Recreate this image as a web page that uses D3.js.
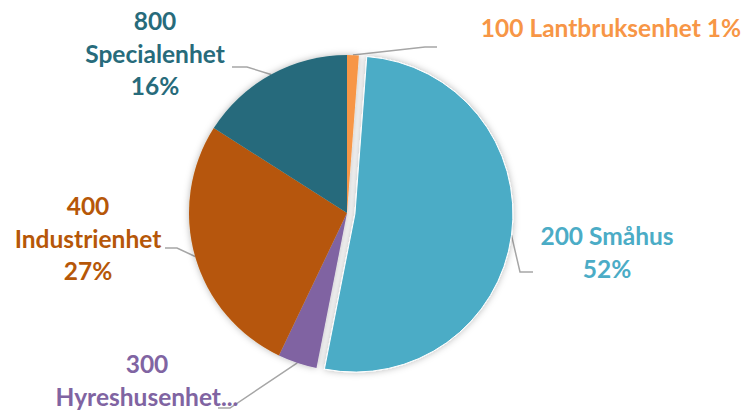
<!DOCTYPE html>
<html><head><meta charset="utf-8">
<script src="https://cdn.jsdelivr.net/npm/d3@7"></script>
<style>
html,body{margin:0;padding:0;background:#fff;}
svg{display:block;}
text{font-family:Lato,"Open Sans",sans-serif;font-weight:bold;}
</style></head><body>
<svg id="chart" width="744" height="410"></svg>
<script>
// Data
const categories = ["100 Lantbruksenhet", "200 Småhus", "300 Hyreshusenhet", "400 Industrienhet", "800 Specialenhet"];
const shares = [1.2, 52, 4, 27, 16];
const labelLines = [
  ["100 Lantbruksenhet 1%"],
  ["200 Småhus", "52%"],
  ["300", "Hyreshusenhet..."],
  ["400", "Industrienhet", "27%"],
  ["800", "Specialenhet", "16%"]
];
const colors = ["#F79646", "#4BACC6", "#8064A2", "#B65708", "#276B7B"];

// Layout (positions only)
const cx = 347, cy = 213, R = 158;
const explode = [0, 8, 0, 0, 0];
const labelPos = [
  {x: 611, y: 37},
  {x: 607, y: 245},
  {x: 147, y: 373},
  {x: 88, y: 215},
  {x: 155, y: 30}
];
const lineH = 32.5;
// leader line elbows: [elbow, end]
const leaders = [
  [[425, 47], [437, 47]],
  [[520, 272], [533, 272]],
  [[230, 408], [218, 408]],
  [[177, 248], [165, 248]],
  [[247, 67], [232, 67]]
];

const svg = d3.select("#chart");
const defs = svg.append("defs");
const f = defs.append("filter").attr("id", "sh").attr("x", "-20%").attr("y", "-20%").attr("width", "140%").attr("height", "140%");
f.append("feDropShadow").attr("dx", 0).attr("dy", 0).attr("stdDeviation", 3.5)
  .attr("flood-color", "#000").attr("flood-opacity", 0.28);

const pie = d3.pie().sort(null).value(d => d).startAngle(0).endAngle(2 * Math.PI);
const arcs = pie(shares);
const arc = d3.arc().innerRadius(0).outerRadius(R);
const color = d3.scaleOrdinal().domain(categories).range(colors);

// leader lines (under pie)
const lg = svg.append("g");
arcs.forEach((a, i) => {
  const mid = (a.startAngle + a.endAngle) / 2;
  const r0 = R + explode[i];
  const p0 = [cx + r0 * Math.sin(mid), cy - r0 * Math.cos(mid)];
  const pts = [p0, leaders[i][0], leaders[i][1]];
  lg.append("path")
    .attr("d", d3.line()(pts))
    .attr("fill", "none")
    .attr("stroke", "#A6A6A6")
    .attr("stroke-width", 1.5);
});

const g = svg.append("g").attr("transform", `translate(${cx},${cy})`).attr("filter", "url(#sh)");
g.selectAll("path.slice").data(arcs).enter().append("path")
  .attr("class", "slice")
  .attr("transform", (d, i) => {
    const mid = (d.startAngle + d.endAngle) / 2;
    return `translate(${explode[i] * Math.sin(mid)},${-explode[i] * Math.cos(mid)})`;
  })
  .attr("d", arc)
  .attr("fill", (d, i) => color(categories[i]))
  .attr("stroke", (d, i) => explode[i] ? "#fff" : "none")
  .attr("stroke-width", 1);

// labels
labelLines.forEach((lines, i) => {
  const t = svg.append("text")
    .attr("text-anchor", "middle")
    .attr("fill", color(categories[i]))
    .attr("font-size", 24.5);
  lines.forEach((s, k) => {
    t.append("tspan").attr("x", labelPos[i].x).attr("y", labelPos[i].y + k * lineH).text(s);
  });
});
</script>
</body></html>
